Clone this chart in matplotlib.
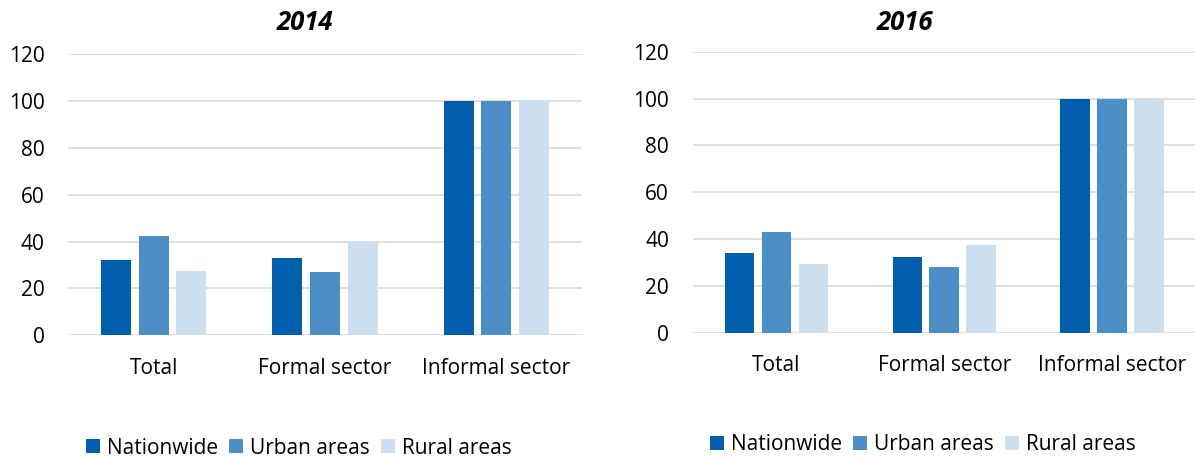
import matplotlib
matplotlib.use("Agg")
import matplotlib.pyplot as plt
import numpy as np

plt.rcParams['font.family'] = ['Open Sans', 'DejaVu Sans']

categories = ["Total", "Formal sector", "Informal sector"]
series_names = ["Nationwide", "Urban areas", "Rural areas"]
colors = ["#005EAC", "#4C8FC6", "#CCDFEE"]

values_2014 = {
    "Nationwide": [32.0, 32.9, 100.0],
    "Urban areas": [42.4, 26.9, 100.0],
    "Rural areas": [27.5, 40.0, 100.0],
}
values_2016 = {
    "Nationwide": [33.9, 32.2, 100.0],
    "Urban areas": [43.0, 28.1, 100.0],
    "Rural areas": [29.5, 37.5, 100.0],
}
yticks = [0, 20, 40, 60, 80, 100, 120]

W, H = 1195, 459
fig = plt.figure(figsize=(W / 100, H / 100), dpi=100)


def px_axes(x0, x1, ytop, ybot):
    return [x0 / W, 1 - ybot / H, (x1 - x0) / W, (ybot - ytop) / H]


def draw(ax, data, title, title_xy, legend_xy):
    x = np.arange(len(categories))
    step = 0.22
    width = 0.176
    handles = []
    for i, name in enumerate(series_names):
        b = ax.bar(x + (i - 1) * step, data[name], width=width, color=colors[i],
                   label=name, zorder=3)
        handles.append(b)
    ax.set_xlim(-0.5, 2.5)
    ax.set_ylim(0, 120)
    ax.set_yticks(yticks)
    ax.set_xticks(x)
    ax.set_xticklabels(categories)
    for s in ax.spines.values():
        s.set_visible(False)
    ax.yaxis.grid(True, color="#D9D9D9", linewidth=1.2, zorder=0)
    ax.set_axisbelow(True)
    ax.tick_params(axis="y", length=0, pad=17, labelsize=15, colors="#000000")
    ax.tick_params(axis="x", length=0, pad=16, labelsize=15, colors="#000000")
    fig.text(title_xy[0] / W, 1 - title_xy[1] / H, title, fontsize=18.5,
             fontweight="bold", fontstyle="italic", ha="center", va="center",
             color="#000000")
    fig.legend(handles=handles, labels=series_names, loc="center left",
               bbox_to_anchor=(legend_xy[0] / W, 1 - legend_xy[1] / H),
               ncol=3, frameon=False, fontsize=15, handlelength=0.65,
               handleheight=0.65, handletextpad=0.35, columnspacing=0.55,
               borderpad=0, borderaxespad=0, labelcolor="#000000")


ax1 = fig.add_axes(px_axes(68, 582, 54, 335.3))
draw(ax1, values_2014, "2014", (305, 22), (86, 448))
ax2 = fig.add_axes(px_axes(692.5, 1196, 51.7, 332.7))
draw(ax2, values_2016, "2016", (905, 22), (710, 445))

fig.savefig("out.png", dpi=100)
